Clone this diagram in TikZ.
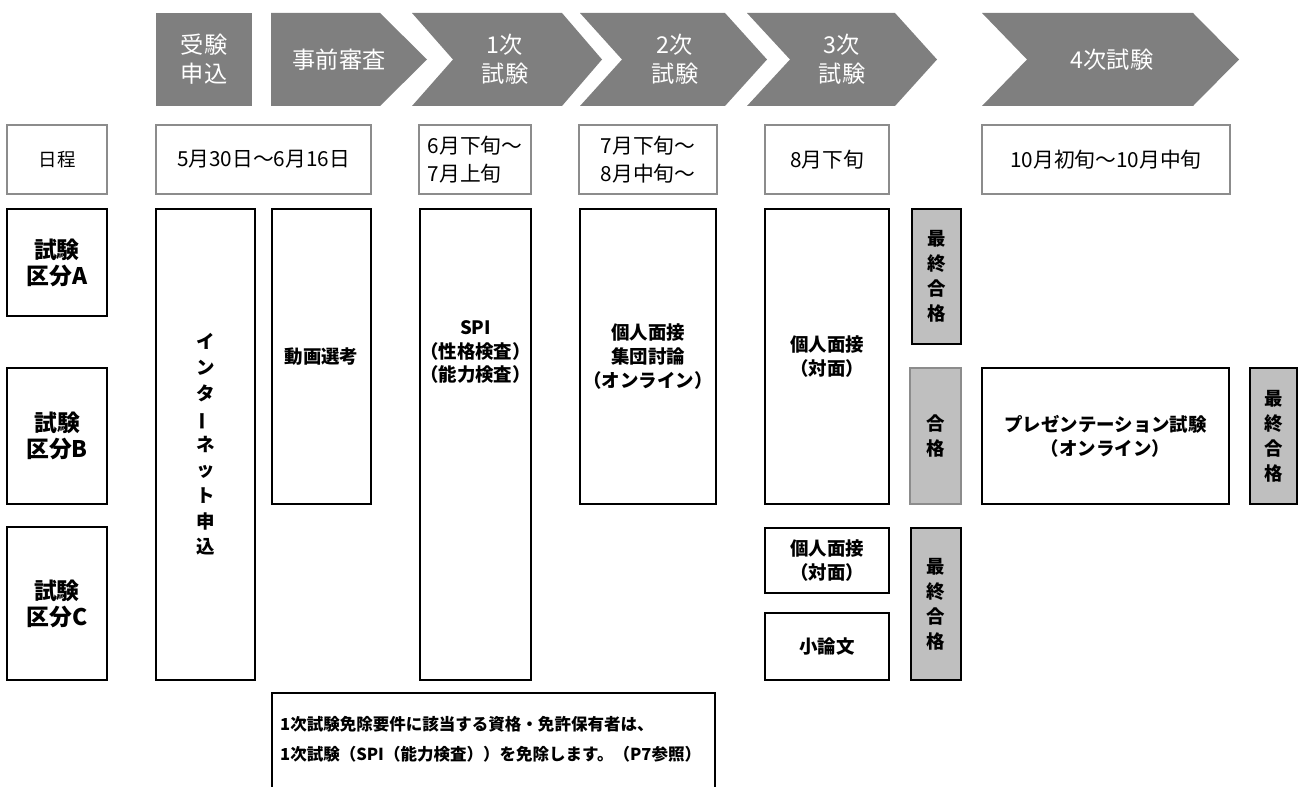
\documentclass[tikz,border=0pt]{standalone}
\usepackage{fontspec}
\usepackage{graphicx}
\setmainfont{Noto Sans CJK JP}
\usetikzlibrary{positioning}
\definecolor{hdrgray}{HTML}{7F7F7F}
\definecolor{passgray}{HTML}{BFBFBF}
\definecolor{dategray}{HTML}{8C8C8C}
\tikzset{
  hdrshape/.style={fill=hdrgray},
  hdrtxt/.style={text=white,align=center,font=\fontsize{13.2}{16.5}\selectfont},
  datebox/.style={draw=dategray,line width=1pt,inner sep=0pt,align=left,font=\fontsize{11.8}{15.9}\selectfont},
  bodybox/.style={draw,line width=1.1pt,inner sep=0pt,align=center,font=\bfseries\fontsize{10.5}{13.6}\selectfont},
  rowbox/.style={bodybox,minimum width=2cm,font=\bfseries\fontsize{13}{14.8}\selectfont},
  passbox/.style={bodybox,fill=passgray,font=\bfseries\fontsize{10.5}{14.2}\selectfont},
}
\begin{document}
\begin{tikzpicture}[x=0.02cm,y=-0.02cm]
\useasboundingbox (0,0) rectangle (1299,787);
% header row
\fill[hdrshape] (156,13) rectangle (252,106);
\fill[hdrshape] (271,13) -- (380,13) -- (427,59.5) -- (380,106) -- (271,106) -- cycle;
\foreach \xa/\xb/\xc/\xd in {412/453/562/602,580/622/725/767,747/790/895/937,982/1027/1193/1239}
  \fill[hdrshape] (\xa,13) -- (\xc,13) -- (\xd,59.5) -- (\xc,106) -- (\xa,106) -- (\xb,59.5) -- cycle;
\node[hdrtxt] (apply) at (204,59.5) {受験\\申込};
\node[hdrtxt] (prescreen) at (339,59.5) {事前審査};
\node[hdrtxt] (exam1) at (505,59.5) {1次\\試験};
\node[hdrtxt] (exam2) at (675,59.5) {2次\\試験};
\node[hdrtxt] (exam3) at (842,59.5) {3次\\試験};
\node[hdrtxt] (exam4) at (1112,59.5) {4次試験};
% dates
\node[datebox,minimum width=2cm,minimum height=1.38cm,font=\fontsize{10.5}{12}\selectfont] (dlabel) at (57,159.5) {日程};
\node[datebox,minimum width=4.3cm,minimum height=1.38cm] (d0) at (263.5,159.5) {5月30日～6月16日};
\node[datebox,minimum width=2.24cm,minimum height=1.38cm] (d1) at (475,159.5) {6月下旬～\\7月上旬};
\node[datebox,minimum width=2.76cm,minimum height=1.38cm] (d2) at (648,159.5) {7月下旬～\\8月中旬～};
\node[datebox,minimum width=2.48cm,minimum height=1.38cm] (d3) at (827,159.5) {8月下旬};
\node[datebox,minimum width=4.96cm,minimum height=1.38cm] (d4) at (1106,159.5) {10月初旬～10月中旬};
% row labels
\node[rowbox,minimum height=2.14cm] (rowA) at (57,262.5) {試験\\区分A};
\node[rowbox,minimum height=2.72cm] (rowB) at (57,436) {試験\\区分B};
\node[rowbox,minimum height=3.06cm] (rowC) at (57,603.5) {試験\\区分C};
% stages
\node[bodybox,minimum width=1.98cm,minimum height=9.42cm,font=\bfseries\fontsize{10.5}{14.6}\selectfont] (inet) at (205.5,444.5)
  {イ\\ン\\タ\\\rotatebox[origin=c]{90}{ー}\\ネ\\ッ\\ト\\申\\込};
\node[bodybox,minimum width=1.98cm,minimum height=5.9cm] (video) at (321.5,356.5) {動画選考};
\node[bodybox,minimum width=2.22cm,minimum height=9.42cm] (spi) at (475.5,444.5) {};
\node[align=center,font=\bfseries\fontsize{10.5}{13.6}\selectfont] (spitxt) at (475.5,352) {SPI\\（性格検査）\\（能力検査）};
\node[bodybox,minimum width=2.72cm,minimum height=5.9cm] (group) at (648,356.5) {個人面接\\集団討論\\（オンライン）};
\node[bodybox,minimum width=2.48cm,minimum height=5.9cm] (face3A) at (827,356.5) {個人面接\\（対面）};
\node[bodybox,minimum width=2.48cm,minimum height=1.3cm] (face3C) at (827,560.5) {個人面接\\（対面）};
\node[bodybox,minimum width=2.48cm,minimum height=1.34cm] (essay) at (827,646.5) {小論文};
\node[bodybox,minimum width=4.94cm,minimum height=2.72cm] (present) at (1105.5,436) {プレゼンテーション試験\\（オンライン）};
% results
\node[passbox,minimum width=0.98cm,minimum height=2.7cm] (passA) at (936.5,276.5) {最\\終\\合\\格};
\node[passbox,draw=dategray,line width=1pt,minimum width=1.02cm,minimum height=2.72cm] (passB) at (935.5,436) {合\\格};
\node[passbox,minimum width=0.94cm,minimum height=2.72cm] (finalB) at (1273.5,436) {最\\終\\合\\格};
\node[passbox,minimum width=1cm,minimum height=3.04cm] (passC) at (936,604) {最\\終\\合\\格};
% note
\node[anchor=west,align=left,font=\bfseries\fontsize{9.4}{17}\selectfont] (note) at (274,739)
  {1次試験免除要件に該当する資格・免許保有者は、\\1次試験（SPI（能力検査））を免除します。（P7参照）};
\draw[line width=1.1pt] (272,792) |- (715,693) -- (715,792);
\end{tikzpicture}
\end{document}
